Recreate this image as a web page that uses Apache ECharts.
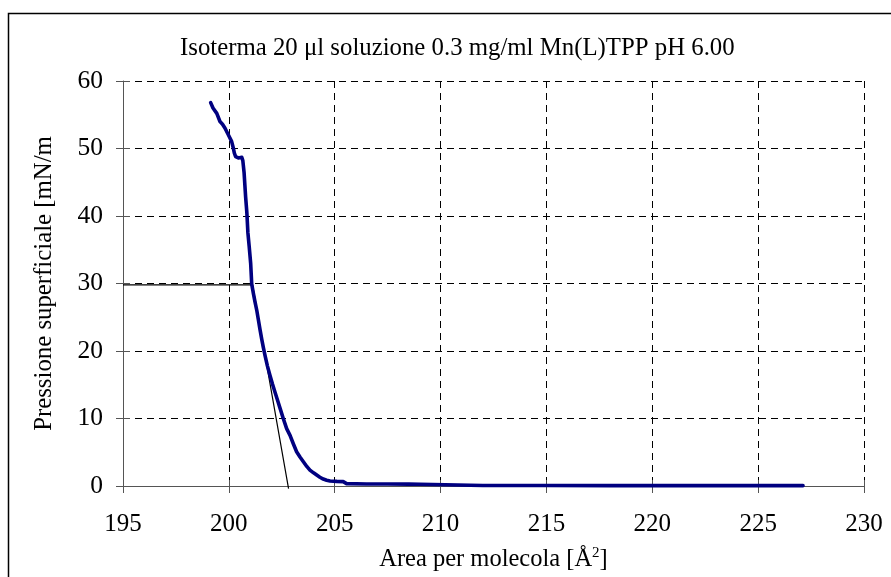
<!DOCTYPE html>
<html>
<head>
<meta charset="utf-8">
<script src="https://cdn.jsdelivr.net/npm/echarts@6/dist/echarts.min.js"></script>
<style>
html,body{margin:0;padding:0;background:#fff;}
#main{width:891px;height:577px;}
</style>
</head>
<body>
<div id="main"></div>
<script>
// ---- data ----
const titleText = 'Isoterma 20 \u03bcl soluzione 0.3 mg/ml Mn(L)TPP pH 6.00';
const xName = 'Area per molecola [\u00c5{sup|2}]';
const yName = 'Pressione superficiale [mN/m';
const xTicks = [195, 200, 205, 210, 215, 220, 225, 230];
const yTicks = [0, 10, 20, 30, 40, 50, 60];

const areaData = [199.14, 199.25, 199.43, 199.58, 199.70, 199.82, 199.98, 200.13, 200.21, 200.26, 200.32, 200.45, 200.61, 200.66, 200.72, 200.79, 200.85, 200.90, 200.96, 201.03, 201.08, 201.16, 201.24, 201.32, 201.39, 201.47, 201.55, 201.63, 201.71, 201.82, 201.94, 202.06, 202.18, 202.30, 202.42, 202.57, 202.73, 202.89, 203.04, 203.20, 203.36, 203.52, 203.68, 203.83, 204.00, 204.15, 204.30, 204.46, 204.62, 204.78, 205.10, 205.40, 205.56, 206.5, 207.5, 208.5, 209.03, 209.1, 212, 215, 218, 221, 224, 227.12];
const pressureData = [56.8, 56.0, 55.2, 54.0, 53.6, 53.0, 52.0, 51.05, 50.07, 49.3, 48.8, 48.6, 48.7, 48.2, 46.4, 42.9, 40.5, 37.5, 35.5, 33.0, 29.9, 28.5, 27.2, 26.0, 24.7, 23.2, 21.8, 20.5, 19.3, 17.8, 16.4, 15.1, 13.9, 12.7, 11.5, 10.0, 8.5, 7.5, 6.3, 5.07, 4.3, 3.6, 2.9, 2.36, 1.95, 1.62, 1.3, 1.03, 0.85, 0.74, 0.68, 0.65, 0.35, 0.3, 0.3, 0.28, 0.25, 0.1, 0.08, 0.07, 0.06, 0.05, 0.05, 0.05];

const tangentX = [195, 201.12, 202.82];
const tangentY = [29.8, 29.8, -0.4];

// ---- chart ----
const FONT = '"Liberation Serif", "DejaVu Serif", serif';
const xMin = xTicks[0], xMax = xTicks[xTicks.length - 1], xStep = xTicks[1] - xTicks[0];
const yMin = yTicks[0], yMax = yTicks[yTicks.length - 1], yStep = yTicks[1] - yTicks[0];

const chart = echarts.init(document.getElementById('main'), null, {renderer: 'canvas'});

const axisLineStyle = {color: '#555', width: 1};
const gridDash = {color: '#000', width: 1, type: [7, 5]};

chart.setOption({
  animation: false,
  backgroundColor: '#fff',
  title: {
    text: titleText,
    left: 180,
    top: 36,
    padding: 0,
    textStyle: {fontFamily: FONT, fontSize: 24.8, fontWeight: 'normal', color: '#000'}
  },
  graphic: [
    {type: 'polyline', shape: {points: [[8.5, 577], [8.5, 13.5], [891, 13.5]]},
     style: {stroke: '#000', lineWidth: 1.5, fill: null}, silent: true}
  ],
  grid: {left: 123, right: 27, top: 81, bottom: 89, containLabel: false},
  xAxis: [
    {
      type: 'value', min: xMin, max: xMax, interval: xStep,
      name: xName, nameLocation: 'middle', nameGap: 60,
      nameTextStyle: {fontFamily: FONT, fontSize: 24.5, color: '#000',
        rich: {sup: {fontFamily: FONT, fontSize: 15, color: '#000', verticalAlign: 'top', padding: [0, 0, 12, 0]}}},
      axisLine: {show: true, lineStyle: axisLineStyle},
      axisTick: {show: true, length: 7, lineStyle: axisLineStyle},
      axisLabel: {fontFamily: FONT, fontSize: 25, color: '#000', margin: 26},
      splitLine: {show: true, lineStyle: gridDash}
    },
    {
      type: 'value', min: xMin, max: xMax, interval: xStep, position: 'bottom',
      axisLine: {show: false},
      axisTick: {show: true, inside: true, length: 6, lineStyle: axisLineStyle},
      axisLabel: {show: false}, splitLine: {show: false}
    }
  ],
  yAxis: [
    {
      type: 'value', min: yMin, max: yMax, interval: yStep,
      name: yName, nameLocation: 'middle', nameGap: 66,
      nameTextStyle: {fontFamily: FONT, fontSize: 24.8, color: '#000'},
      axisLine: {show: true, lineStyle: axisLineStyle},
      axisTick: {show: true, length: 7, lineStyle: axisLineStyle},
      axisLabel: {fontFamily: FONT, fontSize: 25.5, color: '#000', margin: 20},
      splitLine: {show: true, lineStyle: gridDash}
    },
    {
      type: 'value', min: yMin, max: yMax, interval: yStep, position: 'left',
      axisLine: {show: false},
      axisTick: {show: true, inside: true, length: 7, lineStyle: axisLineStyle},
      axisLabel: {show: false}, splitLine: {show: false}
    }
  ],
  series: [
    {
      type: 'line', xAxisIndex: 0, yAxisIndex: 0,
      data: tangentX.map((x, i) => [x, tangentY[i]]),
      showSymbol: false, clip: false, z: 3,
      lineStyle: {color: '#000', width: 1.2}
    },
    {
      type: 'line', xAxisIndex: 0, yAxisIndex: 0,
      data: areaData.map((x, i) => [x, pressureData[i]]),
      showSymbol: false, clip: false, z: 4,
      lineStyle: {color: '#000080', width: 3.6, join: 'round', cap: 'round'}
    }
  ]
});
</script>
</body>
</html>
